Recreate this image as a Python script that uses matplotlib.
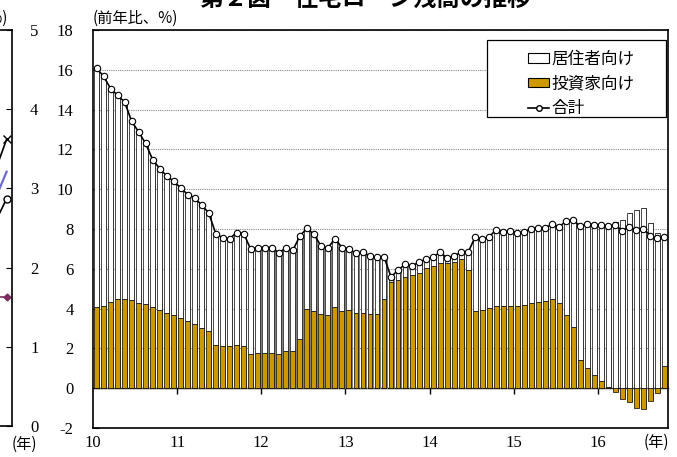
import matplotlib
matplotlib.use("Agg")
import matplotlib.pyplot as plt
import numpy as np
from matplotlib.patches import Patch, Rectangle
from matplotlib.lines import Line2D

# monthly, 2010-01 .. 2016-10 (year-on-year %, contributions)
total = [16.08, 15.68, 15.06, 14.72, 14.39, 13.42, 12.88, 12.30, 11.49, 11.04, 10.67, 10.40,
         10.07, 9.73, 9.56, 9.20, 8.81, 7.77, 7.55, 7.52, 7.82, 7.77, 6.97, 7.07,
         7.07, 7.07, 6.80, 7.04, 6.93, 7.65, 8.03, 7.74, 7.15, 7.04, 7.52, 7.07,
         7.02, 6.77, 6.85, 6.63, 6.57, 6.60, 5.59, 5.93, 6.22, 6.13, 6.35, 6.47,
         6.60, 6.82, 6.55, 6.65, 6.83, 6.83, 7.60, 7.49, 7.60, 7.97, 7.85, 7.90,
         7.82, 7.84, 8.01, 8.06, 8.06, 8.24, 8.11, 8.41, 8.44, 8.14, 8.26, 8.22,
         8.19, 8.16, 8.19, 7.91, 8.11, 7.94, 8.01, 7.67, 7.54, 7.60]
investor = [4.06, 4.14, 4.31, 4.46, 4.49, 4.41, 4.29, 4.21, 4.06, 3.92, 3.80, 3.67,
            3.55, 3.37, 3.25, 3.05, 2.86, 2.16, 2.11, 2.11, 2.16, 2.13, 1.71, 1.79,
            1.77, 1.79, 1.74, 1.86, 1.89, 2.45, 3.97, 3.90, 3.73, 3.70, 4.07, 3.88,
            3.92, 3.78, 3.77, 3.75, 3.75, 4.46, 5.34, 5.46, 5.59, 5.71, 5.81, 6.05,
            6.12, 6.28, 6.27, 6.35, 6.47, 5.93, 3.88, 3.92, 4.04, 4.11, 4.12, 4.12,
            4.14, 4.16, 4.28, 4.34, 4.36, 4.46, 4.29, 3.70, 3.08, 1.41, 1.04, 0.65,
            0.34, 0.05, -0.17, -0.52, -0.69, -0.99, -1.04, -0.62, -0.24, 1.11]
year_labels = ["10", "11", "12", "13", "14", "15", "16"]
legend_labels = ["居住者向け", "投資家向け", "合計"]

# neighbouring chart (only its right edge is visible)
left_x = [94, 98.2]
left_cross = [3.18, 3.62]
left_blue = [2.83, 3.21]
left_circle = [2.54, 2.87]
left_diamond = [1.63, 1.63]

GOLD = "#CC9900"
JP = ["Noto Sans CJK JP", "DejaVu Sans"]
W, H = 677, 457

plt.rcParams["font.family"] = ["Liberation Serif", "Noto Sans CJK JP"]
plt.rcParams["axes.unicode_minus"] = False


def box(x0, y0, x1, y1):
    return [x0 / W, 1 - y1 / H, (x1 - x0) / W, (y1 - y0) / H]


def draw_main(fig):
    ax = fig.add_axes(box(93, 30, 668, 428))
    tot = np.array(total)
    inv = np.array(investor)
    res = tot - inv
    x = np.arange(len(tot)) + 0.5
    res_bottom = np.where(inv > 0, inv, 0)

    w = 0.7
    # gray shadow on the right side of each bar
    ax.bar(x + 0.18, inv, width=w, color="#7f7f7f", zorder=2)
    ax.bar(x + 0.18, res, bottom=res_bottom, width=w, color="#7f7f7f", zorder=2)
    ax.bar(x, inv, width=w, color=GOLD, edgecolor="black", linewidth=0.5, zorder=3)
    ax.bar(x, res, bottom=res_bottom, width=w, color="white",
           edgecolor="black", linewidth=0.5, zorder=3)
    ax.plot(x, tot, color="black", lw=1.2, marker="o", markersize=4.6,
            markerfacecolor="white", markeredgecolor="black", markeredgewidth=0.8,
            zorder=5)

    ax.set_xlim(0, len(tot))
    ax.set_ylim(-2, 18)
    ax.set_yticks(np.arange(-2, 19, 2))
    ax.yaxis.grid(True, linestyle=(0, (1, 1)), color="#888888", lw=0.8)
    ax.set_axisbelow(True)
    ax.tick_params(axis="y", direction="in", length=4, labelsize=12, pad=14)
    ax.set_xticks(np.arange(0, len(tot), 12))
    ax.set_xticklabels(year_labels)
    ax.tick_params(axis="x", length=0, labelsize=12, pad=5)
    for s in ax.spines.values():
        s.set_linewidth(1.2)

    # the category axis crosses at zero
    zero = ax.secondary_xaxis(0, transform=ax.transData)
    zero.set_xticks(np.arange(12, len(tot), 12))
    zero.set_xticklabels([])
    zero.tick_params(direction="out", length=4, width=1)
    zero.spines["bottom"].set_linewidth(1)

    ax.add_patch(Rectangle((0.685, 0.781), 0.3115, 0.194, transform=ax.transAxes,
                           facecolor="white", edgecolor="black", lw=0.9, zorder=6))
    handles = [Patch(facecolor="white", edgecolor="black", lw=0.8),
               Patch(facecolor=GOLD, edgecolor="black", lw=0.8),
               Line2D([], [], color="black", lw=1.2, marker="o", markersize=4,
                      markerfacecolor="white")]
    leg = ax.legend(handles, legend_labels, loc="upper left",
                    bbox_to_anchor=(0.73, 0.985), frameon=False,
                    prop={"family": JP, "size": 12}, handlelength=1.3,
                    handleheight=0.5, handletextpad=0.1, labelspacing=0.45)
    leg.set_zorder(7)
    return ax


def draw_left(fig):
    ax = fig.add_axes(box(-288, 30, 12, 426))
    ax.plot(left_x, left_cross, color="black", lw=1.2, marker="x", markersize=6,
            markevery=[1], clip_on=False)
    ax.plot(left_x, left_blue, color="#6B6BD0", lw=1.6)
    ax.plot(left_x, left_circle, color="black", lw=1.2, marker="o", markersize=5,
            markerfacecolor="white", markevery=[1], clip_on=False)
    ax.plot(left_x, left_diamond, color="#7B2D5E", lw=1.2, marker="D", markersize=3.5,
            markevery=[1], clip_on=False)
    ax.set_xlim(0, 100)
    ax.set_ylim(0, 5)
    ax.set_xticks([])
    ax.yaxis.tick_right()
    ax.set_yticks(range(0, 6))
    ax.tick_params(axis="y", direction="in", length=4, labelsize=12, pad=13)
    for s in ax.spines.values():
        s.set_linewidth(1.2)


def main():
    fig = plt.figure(figsize=(W / 100, H / 100), dpi=100)
    draw_left(fig)
    draw_main(fig)
    fig.text(93 / W, 1 - 18 / H, "(前年比、%)", ha="left", va="center",
             fontsize=11, family=JP)
    fig.text(8 / W, 1 - 18 / H, "(前年比、%)", ha="right", va="center",
             fontsize=11, family=JP)
    fig.text(656 / W, 1 - 442 / H, "(年)", ha="center", va="center",
             fontsize=11, family=JP)
    fig.text(24 / W, 1 - 444 / H, "(年)", ha="center", va="center",
             fontsize=11, family=JP)
    fig.text(365 / W, 1 - 6 / H, "第２図　住宅ローン残高の推移", ha="center",
             va="baseline", fontsize=17, fontweight="bold", family=JP)
    fig.savefig("out.png", dpi=100)


if __name__ == "__main__":
    main()
